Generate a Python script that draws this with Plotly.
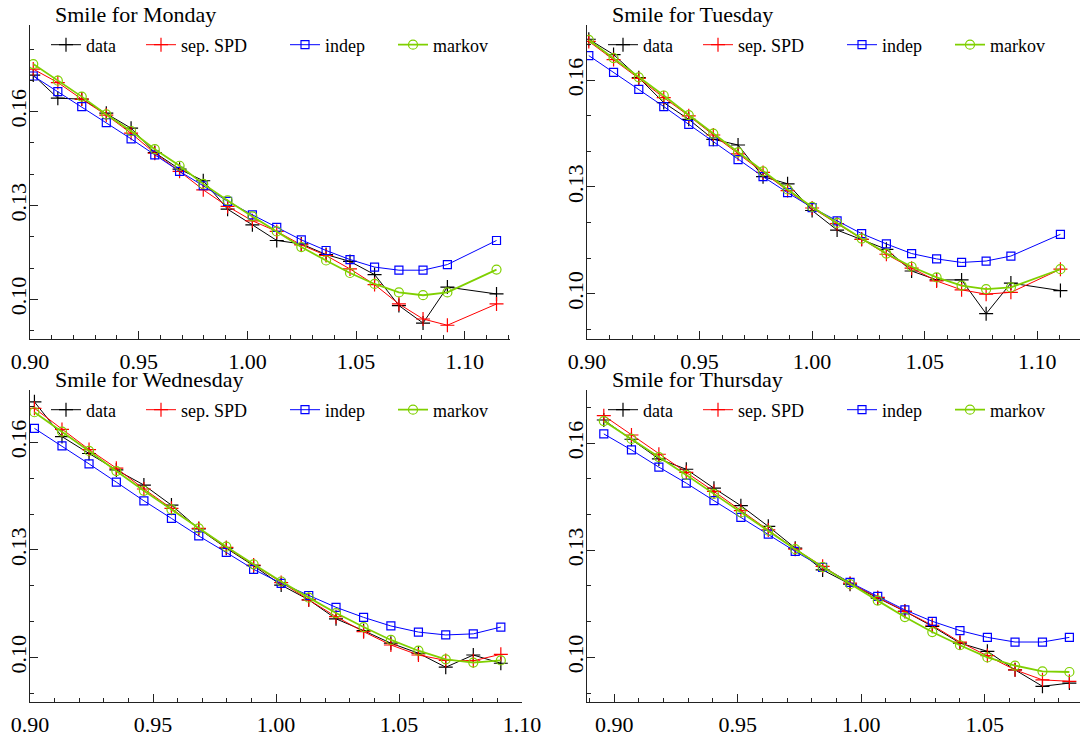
import plotly.graph_objects as go

W, H = 1080, 736

# ---------------- data ----------------
days = ["Monday", "Tuesday", "Wednesday", "Thursday"]

mon_x = [0.9015, 0.9128, 0.9238, 0.9351, 0.9465, 0.9574, 0.9688, 0.9797, 0.9909, 1.0023,
         1.0135, 1.0248, 1.0362, 1.0472, 1.0585, 1.0697, 1.0808, 1.0920, 1.1146]
mon_data = [0.1717, 0.1643, 0.1640, 0.1595, 0.1547, 0.1469, 0.1416, 0.1379, 0.1288, 0.1238,
            0.1188, 0.1177, 0.1143, 0.1121, 0.1079, 0.0980, 0.0924, 0.1039, 0.1017]
mon_spd = [0.1736, 0.1693, 0.1640, 0.1589, 0.1531, 0.1467, 0.1409, 0.1350, 0.1297, 0.1251,
           0.1217, 0.1174, 0.1140, 0.1097, 0.1047, 0.0985, 0.0937, 0.0917, 0.0985]
mon_indep = [0.1714, 0.1664, 0.1616, 0.1565, 0.1513, 0.1462, 0.1409, 0.1363, 0.1313, 0.1270,
             0.1230, 0.1190, 0.1156, 0.1127, 0.1103, 0.1093, 0.1093, 0.1111, 0.1188]
mon_markov = [0.1752, 0.1699, 0.1648, 0.1591, 0.1538, 0.1480, 0.1427, 0.1369, 0.1316, 0.1265,
              0.1217, 0.1167, 0.1124, 0.1084, 0.1049, 0.1022, 0.1013, 0.1022, 0.1095]

tue_x = [0.9008, 0.9118, 0.9230, 0.9341, 0.9452, 0.9561, 0.9671, 0.9782, 0.9891, 1.0000,
         1.0111, 1.0220, 1.0330, 1.0442, 1.0553, 1.0664, 1.0773, 1.0883, 1.1103]
tue_data = [0.1715, 0.1672, 0.1607, 0.1537, 0.1490, 0.1434, 0.1418, 0.1329, 0.1309, 0.1234,
            0.1179, 0.1153, 0.1125, 0.1064, 0.1039, 0.1039, 0.0944, 0.1030, 0.1009]
tue_spd = [0.1709, 0.1658, 0.1605, 0.1551, 0.1500, 0.1446, 0.1393, 0.1341, 0.1290, 0.1241,
           0.1197, 0.1153, 0.1111, 0.1072, 0.1036, 0.1011, 0.0999, 0.1004, 0.1069]
tue_indep = [0.1669, 0.1622, 0.1574, 0.1526, 0.1476, 0.1427, 0.1377, 0.1329, 0.1284, 0.1242,
             0.1205, 0.1169, 0.1140, 0.1113, 0.1098, 0.1088, 0.1092, 0.1106, 0.1167]
tue_markov = [0.1713, 0.1662, 0.1608, 0.1557, 0.1502, 0.1450, 0.1397, 0.1344, 0.1293, 0.1244,
              0.1199, 0.1155, 0.1113, 0.1076, 0.1046, 0.1023, 0.1013, 0.1018, 0.1069]

wed_x = [0.9018, 0.9130, 0.9240, 0.9351, 0.9463, 0.9575, 0.9686, 0.9798, 0.9909, 1.0021,
         1.0133, 1.0244, 1.0356, 1.0467, 1.0579, 1.0690, 1.0802, 1.0914]
wed_data = [0.1713, 0.1616, 0.1569, 0.1523, 0.1481, 0.1425, 0.1359, 0.1305, 0.1256, 0.1202,
            0.1161, 0.1108, 0.1075, 0.1040, 0.1012, 0.0973, 0.1007, 0.0984]
wed_spd = [0.1695, 0.1636, 0.1580, 0.1528, 0.1470, 0.1416, 0.1360, 0.1307, 0.1258, 0.1209,
           0.1161, 0.1114, 0.1072, 0.1035, 0.1007, 0.0992, 0.0991, 0.1009]
wed_indep = [0.1639, 0.1590, 0.1540, 0.1489, 0.1437, 0.1388, 0.1339, 0.1293, 0.1246, 0.1207,
             0.1173, 0.1140, 0.1112, 0.1088, 0.1071, 0.1063, 0.1066, 0.1085]
wed_markov = [0.1684, 0.1630, 0.1576, 0.1520, 0.1465, 0.1413, 0.1360, 0.1309, 0.1260, 0.1212,
              0.1167, 0.1124, 0.1085, 0.1049, 0.1019, 0.0995, 0.0986, 0.0992]

thu_x = [0.8958, 0.9070, 0.9181, 0.9292, 0.9404, 0.9513, 0.9624, 0.9733, 0.9844, 0.9955,
         1.0067, 1.0177, 1.0288, 1.0400, 1.0511, 1.0623, 1.0734, 1.0843]
thu_data = [0.1665, 0.1611, 0.1556, 0.1527, 0.1474, 0.1425, 0.1367, 0.1306, 0.1245, 0.1205,
            0.1166, 0.1129, 0.1087, 0.1040, 0.1017, 0.0965, 0.0919, 0.0928]
thu_spd = [0.1677, 0.1623, 0.1569, 0.1518, 0.1465, 0.1411, 0.1357, 0.1303, 0.1255, 0.1208,
           0.1168, 0.1129, 0.1090, 0.1043, 0.1005, 0.0965, 0.0937, 0.0933]
thu_indep = [0.1626, 0.1581, 0.1533, 0.1488, 0.1439, 0.1392, 0.1345, 0.1297, 0.1252, 0.1210,
             0.1171, 0.1133, 0.1101, 0.1075, 0.1056, 0.1043, 0.1043, 0.1056]
thu_markov = [0.1662, 0.1612, 0.1561, 0.1511, 0.1458, 0.1406, 0.1355, 0.1303, 0.1253, 0.1205,
              0.1159, 0.1113, 0.1071, 0.1034, 0.1000, 0.0977, 0.0961, 0.0959]

series_names = ["data", "sep. SPD", "indep", "markov"]
x_tick_labels_step = 0.05
y_tick_labels_step = 0.03

panels = [
    (mon_x, [mon_data, mon_spd, mon_indep, mon_markov]),
    (tue_x, [tue_data, tue_spd, tue_indep, tue_markov]),
    (wed_x, [wed_data, wed_spd, wed_indep, wed_markov]),
    (thu_x, [thu_data, thu_spd, thu_indep, thu_markov]),
]

# ---------------- layout geometry (pixels) ----------------
# (left, right, top, bottom), x range, y range
geom = [
    ((30, 510, 25, 339), (0.90, 1.1208), (0.0873, 0.1877)),
    ((587, 1080, 25, 339), (0.90, 1.119), (0.0873, 0.1755)),
    ((30, 522, 390, 702), (0.90, 1.10), (0.0876, 0.1746)),
    ((587, 1080, 390, 702), (0.889, 1.0886), (0.0875, 0.1749)),
]

styles = [
    dict(color="#000000", symbol="cross-thin-open", size=10, lw=1.0),
    dict(color="#ff0000", symbol="cross-thin-open", size=10, lw=1.0),
    dict(color="#0000ff", symbol="square-open", size=8, lw=1.0),
    dict(color="#7fd000", symbol="circle-open", size=9, lw=1.8),
]

SERIF = "Liberation Serif"
AX = "#222222"

fig = go.Figure()
layout = dict(
    template="none",
    width=W, height=H, margin=dict(l=0, r=0, t=0, b=0, autoexpand=False),
    paper_bgcolor="white", plot_bgcolor="white", showlegend=True,
    font=dict(family=SERIF, color="black"),
    annotations=[],
)

legend_text_offsets = [56, 151, 295, 403]

leg_idx = 0
for p, ((xv, ys), ((l, r, t, b), xr, yr)) in enumerate(zip(panels, geom)):
    k = "" if p == 0 else str(p + 1)
    xa, ya = "x" + k, "y" + k
    for s, (name, yv) in enumerate(zip(series_names, ys)):
        st = styles[s]
        leg_idx += 1
        lid = "legend" if leg_idx == 1 else f"legend{leg_idx}"
        fig.add_trace(go.Scatter(
            x=xv, y=yv, name=name, mode="lines+markers", xaxis=xa, yaxis=ya,
            line=dict(color=st["color"], width=st["lw"]),
            marker=dict(symbol=st["symbol"], size=st["size"], color=st["color"],
                        line=dict(color=st["color"], width=1.2)),
            legend=lid,
        ))
        ly = t + 20
        lx = l + legend_text_offsets[s] - 40
        layout[lid] = dict(
            x=lx / W, y=1 - ly / H, xanchor="left", yanchor="middle",
            bgcolor="rgba(0,0,0,0)", borderwidth=0,
            font=dict(family=SERIF, size=18, color="black"),
        )
    common = dict(showgrid=False, zeroline=False, showline=True, linecolor=AX, linewidth=1,
                  ticks="inside", ticklen=8, tickwidth=1, tickcolor=AX, automargin=False,
                  tickfont=dict(family=SERIF, size=22, color="black"),
                  tickformat=".2f")
    layout["xaxis" + k] = dict(
        common, domain=[l / W, r / W], range=list(xr), anchor=ya,
        tick0=0.90, dtick=x_tick_labels_step, ticklabelstandoff=3,
        minor=dict(ticks="inside", ticklen=4, tickwidth=1, tickcolor=AX, tick0=0.90, dtick=0.01,
                   showgrid=False),
    )
    layout["yaxis" + k] = dict(
        common, domain=[1 - b / H, 1 - t / H], range=list(yr), anchor=xa,
        tick0=0.10, dtick=y_tick_labels_step, tickangle=-90, ticklabelstandoff=-6,
        minor=dict(ticks="inside", ticklen=4, tickwidth=1, tickcolor=AX, tick0=0.10, dtick=0.01,
                   showgrid=False),
    )
    layout["annotations"].append(dict(
        text=f"Smile for {days[p]}", xref="paper", yref="paper",
        x=(l + 23) / W, y=1 - (t - 11) / H, xanchor="left", yanchor="middle",
        showarrow=False, font=dict(family=SERIF, size=22, color="black"),
    ))

fig.update_layout(**layout)
fig.write_html("out.html", config={"displayModeBar": False},
               post_script="document.body.style.margin='0';")
